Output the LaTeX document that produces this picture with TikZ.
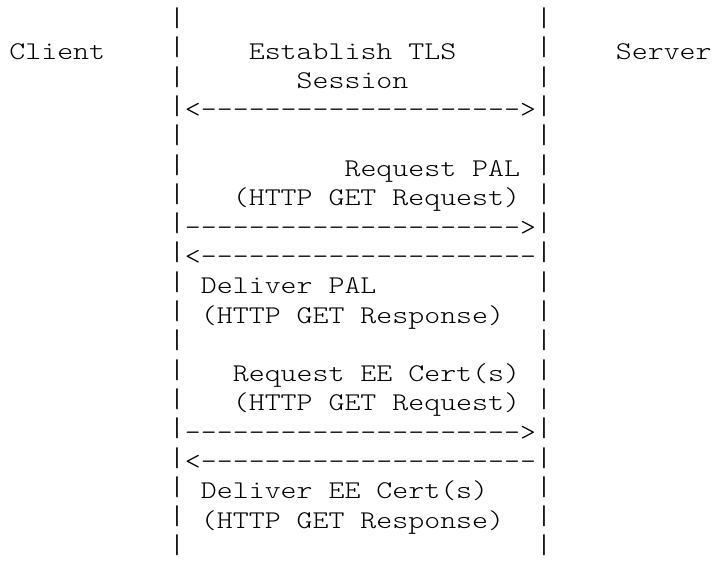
\documentclass[tikz,border=0pt]{standalone}
\usepackage{fontspec}
\setmonofont{lmmonolt10-regular.otf}[FakeStretch=1.192]
\tikzset{
    txt/.style = {inner sep=0pt,
                  outer sep=0pt,
                  anchor=base west,
                  text=black,
                  font=\ttfamily\fontsize{25.5}{29.3}\selectfont},
    bar/.style = {txt,
                  anchor=base,
                  yshift=3.5pt,
                  font=\ttfamily\fontsize{27}{29.3}\selectfont},
}
\begin{document}
\begin{tikzpicture}[x=15.96pt,y=-29.3pt]
    \useasboundingbox (0,0) rectangle (44.8,19.147);
    \begin{scope}[shift={(0.589,1.024)}]
        % lifelines
        \foreach \r in {0,...,18} {
            \node[bar] (cl\r) at (10.5,\r) {|};
            \node[bar] (sv\r) at (33.5,\r) {|};
        }
        \node[txt] (client)      at (0,1)  {Client};
        \node[txt] (server)      at (38,1) {Server};
        \node[txt] (tls)         at (15,1) {Establish TLS};
        \node[txt] (session)     at (18,2) {Session};
        \node[txt] (tlsarrow)    at (11,3) {<-------------------->};
        % PAL
        \node[txt] (reqpal)      at (21,5) {Request PAL};
        \node[txt] (reqpalget)   at (14,6) {(HTTP GET Request)};
        \node[txt] (reqpalarrow) at (11,7) {--------------------->};
        \node[txt] (palarrow)    at (11,8) {<---------------------};
        \node[txt] (delpal)      at (12,9) {Deliver PAL};
        \node[txt] (delpalget)   at (12,10) {(HTTP GET Response)};
        % EE certs
        \node[txt] (reqee)       at (14,12) {Request EE Cert(s)};
        \node[txt] (reqeeget)    at (14,13) {(HTTP GET Request)};
        \node[txt] (reqeearrow)  at (11,14) {--------------------->};
        \node[txt] (eearrow)     at (11,15) {<---------------------};
        \node[txt] (delee)       at (12,16) {Deliver EE Cert(s)};
        \node[txt] (deleeget)    at (12,17) {(HTTP GET Response)};
    \end{scope}
\end{tikzpicture}
\end{document}
